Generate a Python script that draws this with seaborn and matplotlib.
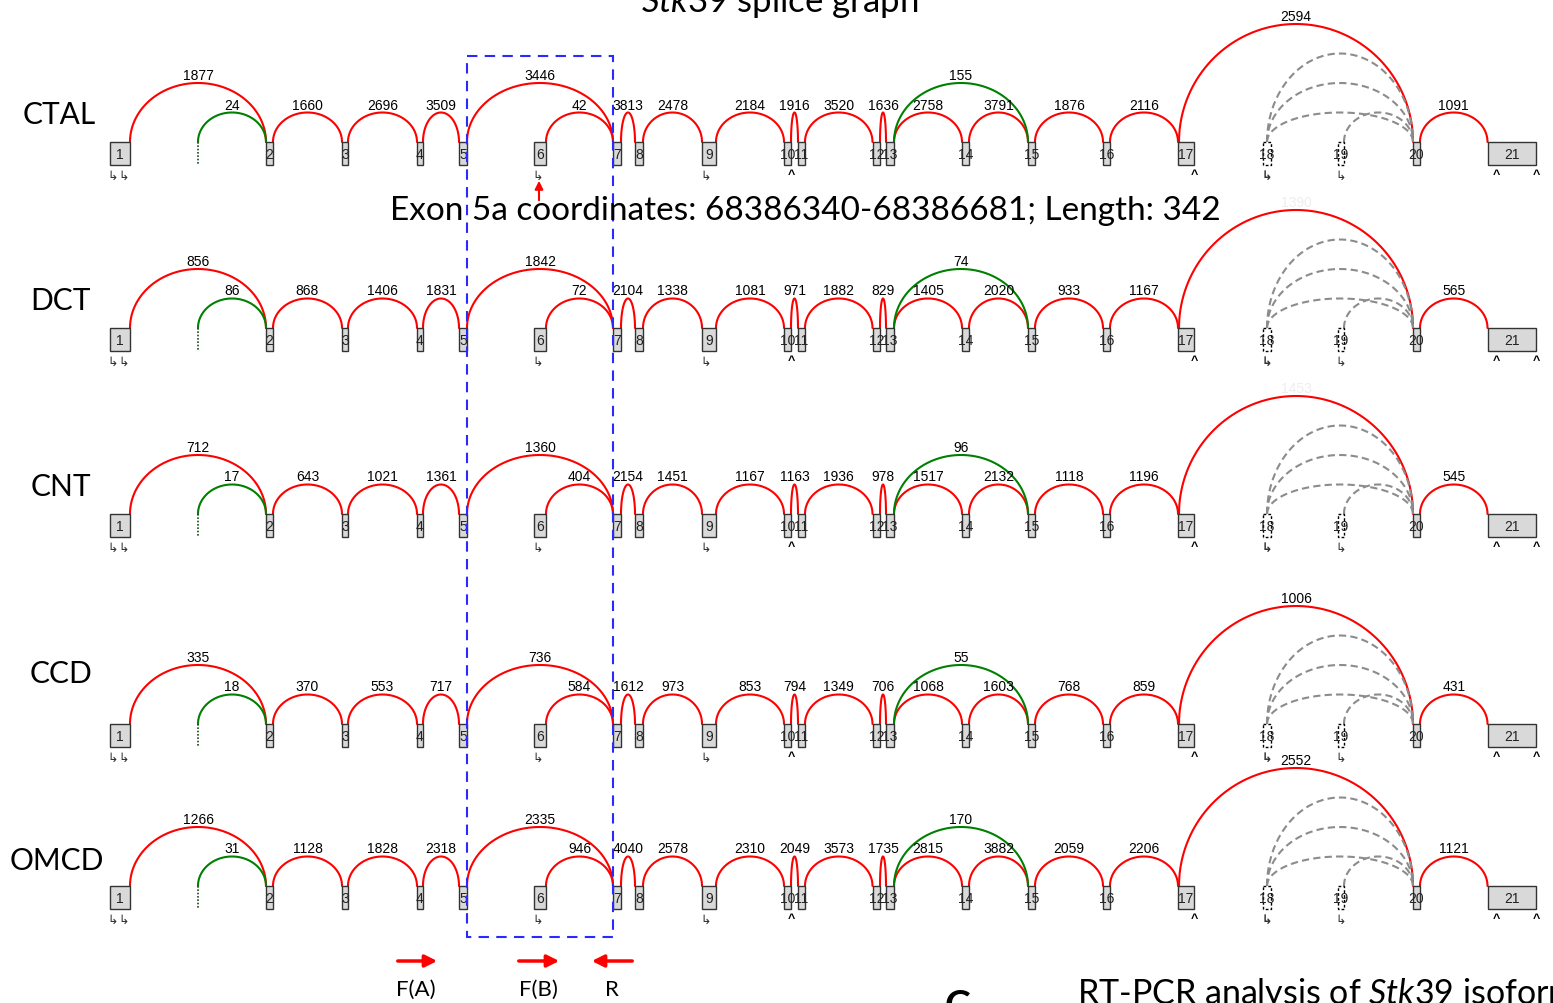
import numpy as np
import pandas as pd
import matplotlib
matplotlib.use("Agg")
import matplotlib.pyplot as plt
import seaborn as sns
from matplotlib.patches import Rectangle

# ---------------- data ----------------
tissues = ["CTAL", "DCT", "CNT", "CCD", "OMCD"]

exon_names = [str(i) for i in range(1, 22)]
exon_start = [110, 266, 342, 417, 459, 534, 613, 635, 702, 784, 798, 872.5, 886, 962, 1028, 1103, 1178, 1263, 1338, 1413, 1487.5]
exon_end = [130, 273, 348, 423, 467, 546, 621, 643, 716, 791, 805, 880, 894, 969, 1035, 1110, 1194, 1271, 1344, 1420, 1536]
exon_predicted = [False] * 17 + [True, True] + [False, False]
alt_first_x = 198

# junctions (donor position -> acceptor position)
junc_x0 = [130, 198, 273, 348, 423, 467, 546, 621, 643, 716, 791, 805, 880, 894, 969, 894, 1035, 1110, 1179, 1420]
junc_x1 = [266, 266, 342, 417, 459, 613, 613, 635, 702, 784, 798, 872.5, 886, 962, 1028, 1028, 1103, 1178, 1413, 1487.5]
junc_level = [2, 1, 1, 1, 1, 2, 1, 1, 1, 1, 1, 1, 1, 1, 1, 2, 1, 1, 4, 1]
junc_kind = ["red", "green"] + ["red"] * 13 + ["green"] + ["red"] * 4

# predicted (unsupported) junctions
pred_x0 = [1267, 1267, 1267, 1344]
pred_x1 = [1413, 1413, 1413, 1413]
pred_level = [3, 2, 1, 1]

ctal_counts = [1877, 24, 1660, 2696, 3509, 3446, 42, 3813, 2478, 2184, 1916, 3520, 1636, 2758, 3791, 155, 1876, 2116, 2594, 1091]
dct_counts = [856, 86, 868, 1406, 1831, 1842, 72, 2104, 1338, 1081, 971, 1882, 829, 1405, 2020, 74, 933, 1167, 1390, 565]
cnt_counts = [712, 17, 643, 1021, 1361, 1360, 404, 2154, 1451, 1167, 1163, 1936, 978, 1517, 2132, 96, 1118, 1196, 1453, 545]
ccd_counts = [335, 18, 370, 553, 717, 736, 584, 1612, 973, 853, 794, 1349, 706, 1068, 1603, 55, 768, 859, 1006, 431]
omcd_counts = [1266, 31, 1128, 1828, 2318, 2335, 946, 4040, 2578, 2310, 2049, 3573, 1735, 2815, 3882, 170, 2059, 2206, 2552, 1121]
counts = [ctal_counts, dct_counts, cnt_counts, ccd_counts, omcd_counts]
hidden_labels = [("DCT", 18), ("CNT", 18)]

tss_x = [113, 124, 538, 706, 1267, 1341]
tss_bold = [False, False, False, False, True, False]
tes_x = [791, 1194, 1496, 1536]

# ---------------- layout ----------------
row_base = [143, 329, 515, 725, 887]
row_label_y = [115, 301, 487, 674, 861]
row_label_x = [59, 60, 61, 61, 57]
level_h = 29.5
box_h = 23

sns.set_theme(style="white")
plt.rcParams['font.family'] = ['Liberation Sans', 'DejaVu Sans']
plt.rcParams['text.color'] = 'black'
plt.rcParams['mathtext.fontset'] = 'custom'
plt.rcParams['mathtext.it'] = 'Lato:italic'
plt.rcParams['mathtext.rm'] = 'Lato'

fig = plt.figure(figsize=(15.53, 10.04), dpi=100)
ax = fig.add_axes([0, 0, 1, 1])

colors = {"red": "#ff0000", "green": "#008000", "gray": "#8c8c8c"}

records = []
arc_id = 0
t = np.linspace(0, np.pi, 80)
for r, base in enumerate(row_base):
    arcs = list(zip(junc_x0, junc_x1, junc_level, junc_kind)) + \
        [(a, b, l, "gray") for a, b, l in zip(pred_x0, pred_x1, pred_level)]
    for x0, x1, lev, kind in arcs:
        cx, rx, h = (x0 + x1) / 2, (x1 - x0) / 2, lev * level_h
        for xx, yy in zip(cx - rx * np.cos(t), base - h * np.sin(t)):
            records.append({"x": xx, "y": yy, "arc": arc_id, "kind": kind})
        arc_id += 1
df = pd.DataFrame(records)

sns.lineplot(data=df, x="x", y="y", units="arc", estimator=None, sort=False,
             hue="kind", style="kind", palette=colors,
             dashes={"red": "", "green": "", "gray": (3.5, 2)},
             linewidth=1.5, legend=False, ax=ax)

# junction count labels
for r, (tissue, base) in enumerate(zip(tissues, row_base)):
    for j, val in enumerate(counts[r]):
        cx = (junc_x0[j] + junc_x1[j]) / 2
        top = base - junc_level[j] * level_h
        col = "#eeeeee" if (tissue, j) in hidden_labels else "black"
        ax.text(cx, top - 8, str(val), ha="center", va="center", fontsize=10,
                color=col, zorder=5)

# exons
for r, base in enumerate(row_base):
    for name, s, e, pred in zip(exon_names, exon_start, exon_end, exon_predicted):
        if pred:
            ax.add_patch(Rectangle((s, base), e - s, box_h, facecolor="white",
                                   edgecolor="black", lw=1, ls=(0, (2, 1.5)), zorder=3))
        else:
            ax.add_patch(Rectangle((s, base), e - s, box_h, facecolor="#d9d9d9",
                                   edgecolor="#333333", lw=1, zorder=3))
        ax.text((s + e) / 2, base + box_h / 2 + 0.5, name, ha="center", va="center",
                fontsize=10, color="#222222", zorder=4)
    ax.plot([alt_first_x, alt_first_x], [base, base + box_h], color="#1a4d1a",
            lw=1.2, ls=(0, (1, 1)), zorder=3)
    for x, b in zip(tss_x, tss_bold):
        ax.text(x, base + 33, "\u21b3", ha="center", va="center", fontsize=9,
                color="#333333", fontweight="bold" if b else "normal",
                family="DejaVu Sans")
    for x in tes_x:
        ax.text(x, base + 32, "^", ha="center", va="center", fontsize=9,
                fontweight="bold", color="black")

# tissue labels
for name, x, y in zip(tissues, row_label_x, row_label_y):
    ax.text(x, y, name, ha="center", va="center", fontsize=21.5, family="Lato",
            color="black")

# exon 5a highlight
ax.add_patch(Rectangle((467, 57), 613 - 467, 938 - 57, fill=False,
                       edgecolor="#2a2aff", lw=1.5, ls=(0, (5, 3.5)), zorder=6))
ax.annotate("", xy=(539, 179), xytext=(539, 204),
            arrowprops=dict(arrowstyle="-|>", color="red", lw=1.5, mutation_scale=12))
ax.text(805, 211, "Exon 5a coordinates: 68386340-68386681; Length: 342",
        ha="center", va="center", fontsize=24, family="Lato", color="black", zorder=7)

# primers
for (xa, xb), lab, lx in zip([(395, 440), (516, 562), (635, 589)],
                             ["F(A)", "F(B)", "R"], [416, 538, 612]):
    ax.annotate("", xy=(xb, 962), xytext=(xa, 962),
                arrowprops=dict(arrowstyle="-|>", color="red", lw=2.5,
                                mutation_scale=18))
    ax.text(lx, 990, lab, ha="center", va="center", fontsize=16, family="Lato",
            color="black")

# titles (partly cut off at the figure edges, as in the source panel)
ax.text(780, 12, r"$\mathit{Stk39}$ splice graph", ha="center", va="baseline",
        fontsize=25, family="Lato", color="black")
ax.text(1077, 1004, r"RT-PCR analysis of $\mathit{Stk39}$ isoforms", ha="left",
        va="baseline", fontsize=24.5, family="Lato", color="black")
ax.text(957, 1018, "C", ha="center", va="baseline", fontsize=28,
        fontweight="bold", family="Lato", color="black")

ax.set_xlim(0, 1553)
ax.set_ylim(1004, 0)
ax.axis("off")
fig.savefig("out.png", dpi=100)
